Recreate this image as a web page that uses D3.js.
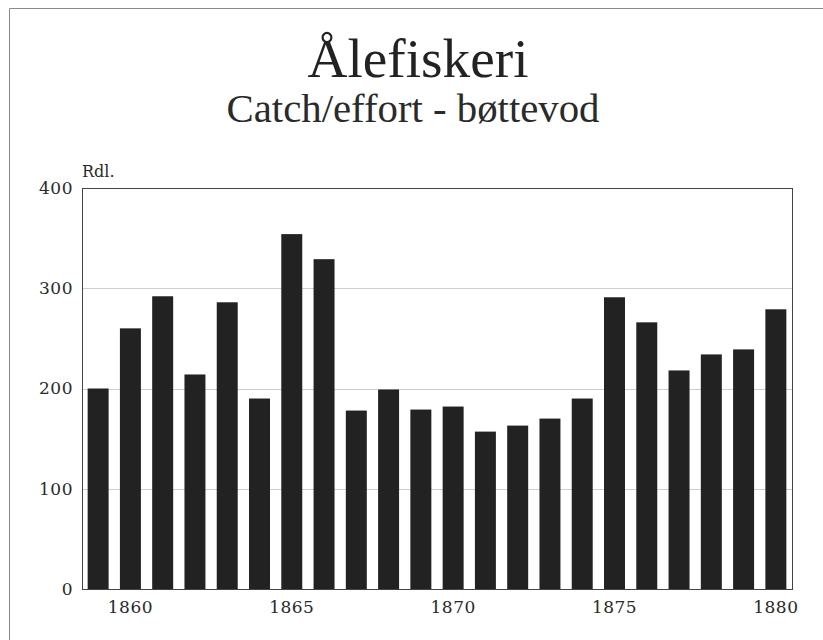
<!DOCTYPE html>
<html>
<head>
<meta charset="utf-8">
<script src="https://cdn.jsdelivr.net/npm/d3@7"></script>
<style>
  body { margin: 0; background: #fff; }
  svg { display: block; }
</style>
</head>
<body>
<div id="chart"></div>
<script>
// catch/effort per year, Rdl.
var years = [1859, 1860, 1861, 1862, 1863, 1864, 1865, 1866, 1867, 1868, 1869,
             1870, 1871, 1872, 1873, 1874, 1875, 1876, 1877, 1878, 1879, 1880];
var values = [200, 260, 292, 214, 286, 190, 354, 329, 178, 199, 179,
              182, 157, 163, 170, 190, 291, 266, 218, 234, 239, 279];
var yTicks = [0, 100, 200, 300, 400];
var xTicks = [1860, 1865, 1870, 1875, 1880];

var width = 823, height = 640;
var margin = {top: 188, right: 31, bottom: 51, left: 82};

var svg = d3.select('#chart').append('svg')
  .attr('width', width)
  .attr('height', height);

// scanned page edge
svg.append('path')
  .attr('fill', 'none')
  .attr('stroke', '#8a8a8a')
  .attr('d', 'M9.5,' + height + ' L9.5,8.5 L' + width + ',8.5');

svg.append('text')
  .attr('x', 418)
  .attr('y', 77)
  .attr('text-anchor', 'middle')
  .attr('textLength', 221)
  .attr('lengthAdjust', 'spacingAndGlyphs')
  .style('font-family', '"Liberation Serif", serif')
  .style('font-size', '54px')
  .style('fill', '#222')
  .text('Ålefiskeri');

svg.append('text')
  .attr('x', 413)
  .attr('y', 122)
  .attr('text-anchor', 'middle')
  .attr('textLength', 373)
  .attr('lengthAdjust', 'spacingAndGlyphs')
  .style('font-family', '"Liberation Serif", serif')
  .style('font-size', '40px')
  .style('fill', '#2a2a2a')
  .text('Catch/effort - bøttevod');

var x = d3.scaleBand()
  .domain(years)
  .range([margin.left, width - margin.right])
  .paddingInner(0.35)
  .paddingOuter(0.175);

var y = d3.scaleLinear()
  .domain([0, 400])
  .range([height - margin.bottom, margin.top]);

// grid
svg.append('g')
  .selectAll('line')
  .data(yTicks.filter(function(d) { return d > 0 && d < 400; }))
  .enter().append('line')
  .attr('x1', margin.left)
  .attr('x2', width - margin.right)
  .attr('y1', function(d) { return Math.round(y(d)) + 0.5; })
  .attr('y2', function(d) { return Math.round(y(d)) + 0.5; })
  .attr('stroke', '#cfcfcf');

svg.append('g')
  .selectAll('rect')
  .data(years)
  .enter().append('rect')
  .attr('x', function(d) { return x(d); })
  .attr('width', x.bandwidth())
  .attr('y', function(d, i) { return y(values[i]); })
  .attr('height', function(d, i) { return y(0) - y(values[i]); })
  .attr('fill', '#222');

// frame
svg.append('rect')
  .attr('x', margin.left + 0.5)
  .attr('y', margin.top + 0.5)
  .attr('width', width - margin.right - margin.left)
  .attr('height', height - margin.bottom - margin.top)
  .attr('fill', 'none')
  .attr('stroke', '#444');

var yAxis = svg.append('g')
  .attr('transform', 'translate(' + margin.left + ',0)')
  .call(d3.axisLeft(y).tickValues(yTicks).tickSize(0).tickPadding(9));
yAxis.select('.domain').remove();

var xAxis = svg.append('g')
  .attr('transform', 'translate(0,' + (height - margin.bottom) + ')')
  .call(d3.axisBottom(x).tickValues(xTicks).tickSize(0).tickPadding(12));
xAxis.select('.domain').remove();

svg.selectAll('.tick text')
  .style('font-family', '"DejaVu Serif", serif')
  .style('font-size', '17px')
  .style('letter-spacing', '0.5px')
  .style('fill', '#2a2a2a');

svg.append('text')
  .attr('x', margin.left)
  .attr('y', 177)
  .style('font-family', '"DejaVu Serif", serif')
  .style('font-size', '16px')
  .style('fill', '#2a2a2a')
  .text('Rdl.');
</script>
</body>
</html>
